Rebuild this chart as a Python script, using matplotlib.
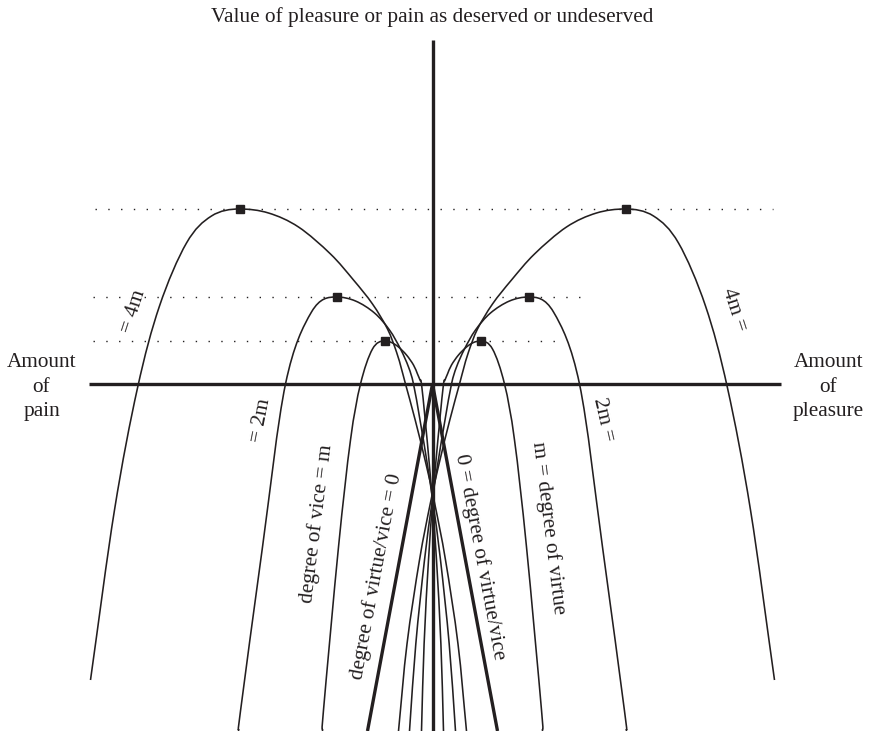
import matplotlib
matplotlib.use("Agg")
import matplotlib.pyplot as plt
from matplotlib.path import Path
from matplotlib.patches import PathPatch
import numpy as np

# ---------------- data (chart units: x = amount of pleasure, y = value) -------------
degree_names = ["m", "2m", "4m"]
peak_x = [48, 96, 193]
peak_y = [43, 87, 175]

# knots read along the right-hand (virtue) curves; vice curves are their mirror images
outer_m = [(48, 43), (60, 35), (72, 0), (82, -56), (94, -163), (109, -326), (110, -347)]
outer_2m = [(96, 87), (121, 72), (147, 0), (170, -163), (192, -327), (194, -347)]
outer_4m = [(193, 175), (221, 168), (246, 141), (273, 78), (295, -4), (318, -126), (342, -296)]

inner_m = [(48, 43), (41, 41.5), (34, 37), (26, 29), (19, 19), (15, 10), (12.5, 4), (11, 0),
           (7.3, -36), (3.2, -80), (-0.1, -120), (-4, -176), (-8.4, -260), (-11, -347)]
inner_2m = [(96, 87), (77, 83), (58, 71), (43, 54), (32, 35), (24, 17), (19, 0),
            (12.5, -36), (5.2, -80), (-0.7, -120), (-8, -176), (-16.7, -260), (-23, -347)]
inner_4m = [(193, 175), (164, 171), (134, 157), (102, 130), (79, 104), (60, 80), (45, 55),
            (36, 32), (31, 15), (27, 0), (17.3, -36), (6.5, -80), (-2.3, -120), (-13, -176),
            (-25.5, -260), (-34, -347)]

zero_line_end = (65, -347)          # degree of virtue/vice = 0
dotted_rows_y = [43, 87, 175]
dotted_rows_x = [(-340, 123), (-340, 158), (-338, 340)]

x_axis = (-344, 348)
y_axis = (-347, 344)

title = "Value of pleasure or pain as deserved or undeserved"
left_label = "Amount\nof\npain"
right_label = "Amount\nof\npleasure"
curve_labels = [
    ("= 4m", (-299, 72), 72), ("4m =", (302, 74), -72),
    ("= 2m", (-172, -36), 79), ("2m =", (171, -36), -77),
    ("degree of vice = m", (-116, -140), 83), ("m = degree of virtue", (116, -144), -83),
    ("degree of virtue/vice = 0", (-56, -192), 79.4), ("0 = degree of virtue/vice", (48, -173), -79.4),
]

# ---------------- drawing -------------
INK = "#231f20"
FONT = ["Liberation Serif", "DejaVu Serif"]
FS = 15.3

fig = plt.figure(figsize=(8.73, 7.31), dpi=100)
ax = fig.add_axes([0, 0, 1, 1])
ax.set_xlim(-432.5, 440.5)
ax.set_ylim(-347, 384)
ax.axis("off")


def smooth_path(pts, vertex_start=True):
    pts = [np.array(p, float) for p in pts]
    if vertex_start:
        pre = np.array([2 * pts[0][0] - pts[1][0], pts[1][1]])
    else:
        pre = pts[0]
    post = pts[-1] + (pts[-1] - pts[-2])
    ext = [pre] + pts + [post]
    verts = [tuple(pts[0])]
    codes = [Path.MOVETO]
    for i in range(1, len(ext) - 2):
        p0, p1, p2, p3 = ext[i - 1], ext[i], ext[i + 1], ext[i + 2]
        c1 = p1 + (p2 - p0) / 6.0
        c2 = p2 - (p3 - p1) / 6.0
        verts += [tuple(c1), tuple(c2), tuple(p2)]
        codes += [Path.CURVE4] * 3
    return Path(verts, codes)


def mirror(pts):
    return [(-x, y) for x, y in pts]


for branch in [outer_m, outer_2m, outer_4m, inner_m, inner_2m, inner_4m]:
    for pts in (branch, mirror(branch)):
        ax.add_patch(PathPatch(smooth_path(pts), fill=False, lw=1.15, ec=INK,
                               capstyle="butt", zorder=3))

# dotted guide lines
for y, (xa, xb) in zip(dotted_rows_y, dotted_rows_x):
    ax.plot([xa, xb], [y, y], color=INK, lw=1.0, dashes=[1.0, 8.2], zorder=1,
            solid_capstyle="butt", dash_capstyle="butt")

# degree 0 lines
ax.plot([0, zero_line_end[0]], [0, zero_line_end[1]], color=INK, lw=2.4, zorder=4, solid_capstyle="butt")
ax.plot([0, -zero_line_end[0]], [0, zero_line_end[1]], color=INK, lw=2.4, zorder=4, solid_capstyle="butt")

# axes
ax.plot(list(x_axis), [0, 0], color=INK, lw=2.4, zorder=5, solid_capstyle="butt")
ax.plot([0, 0], list(y_axis), color=INK, lw=2.4, zorder=5, solid_capstyle="butt")

# peak markers
px = peak_x + [-v for v in peak_x]
py = peak_y + peak_y
ax.plot(px, py, ls="none", marker="s", ms=6.4, color=INK, zorder=6)

# texts
ax.text(0, 367, title, ha="center", va="center", fontsize=FS, family=FONT, color=INK)
ax.text(-391, -3, left_label, ha="center", va="center", fontsize=FS, family=FONT,
        color=INK, linespacing=1.38, multialignment="center")
ax.text(396, -3, right_label, ha="center", va="center", fontsize=FS, family=FONT,
        color=INK, linespacing=1.38, multialignment="center")
for s, (x, y), rot in curve_labels:
    ax.text(x, y, s, ha="center", va="center", rotation=rot, rotation_mode="anchor",
            fontsize=FS, family=FONT, color=INK)

fig.savefig("out.png", dpi=100)
